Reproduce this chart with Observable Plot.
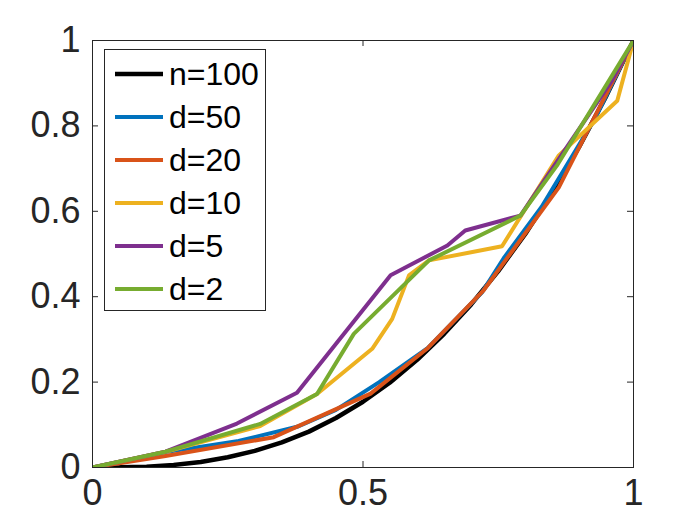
<!DOCTYPE html>
<html>
<head>
<meta charset="utf-8">
<script src="https://cdn.jsdelivr.net/npm/d3@7"></script>
<script src="https://cdn.jsdelivr.net/npm/@observablehq/plot@0.6"></script>
<style>
  body { margin: 0; background: #fff; }
  #wrap { position: relative; width: 700px; height: 525px; font-family: "Liberation Sans", Arial, sans-serif; }
  #legend { position: absolute; left: 104px; top: 49px; width: 162px; height: 262px; border: 1px solid #262626; background: #fff; box-sizing: border-box; }
  .row { position: absolute; left: 0; height: 40px; display: flex; align-items: center; font-size: 32px; color: #000; white-space: nowrap; }
  .swatch { display: inline-block; margin-left: 10px; width: 48px; margin-right: 6px; }
</style>
</head>
<body>
<div id="wrap"></div>
<script>
// ---- data ----
const xTicks = [0, 0.5, 1];
const yTicks = [0, 0.2, 0.4, 0.6, 0.8, 1];

const names  = ["n=100", "d=50", "d=20", "d=10", "d=5", "d=2"];
const colors = ["#000000", "#0072BD", "#D95319", "#EDB120", "#7E2F8E", "#77AC30"];

const xN100 = [0, 0.05, 0.1, 0.15, 0.2, 0.25, 0.3, 0.35, 0.4, 0.45, 0.5, 0.55, 0.6, 0.65, 0.7, 0.75, 0.8, 0.85, 0.9, 0.95, 1];
const yN100 = [0, 0.0003, 0.002, 0.006, 0.013, 0.024, 0.039, 0.059, 0.084, 0.116, 0.154, 0.199, 0.252, 0.313, 0.382, 0.46, 0.547, 0.645, 0.752, 0.871, 1];

const xD50 = [0, 0.135, 0.27, 0.38, 0.45, 0.53, 0.62, 0.72, 0.76, 0.83, 0.93, 1];
const yD50 = [0, 0.036, 0.062, 0.096, 0.135, 0.2, 0.28, 0.41, 0.49, 0.61, 0.82, 1];

const xD20 = [0, 0.135, 0.335, 0.514, 0.62, 0.723, 0.862, 1];
const yD20 = [0, 0.027, 0.071, 0.173, 0.28, 0.415, 0.656, 1];

const xD10 = [0, 0.135, 0.31, 0.415, 0.517, 0.554, 0.585, 0.622, 0.757, 0.862, 0.97, 1];
const yD10 = [0, 0.037, 0.097, 0.172, 0.278, 0.348, 0.45, 0.485, 0.518, 0.731, 0.859, 1];

const xD5 = [0, 0.135, 0.267, 0.378, 0.551, 0.656, 0.689, 0.791, 0.96, 1];
const yD5 = [0, 0.037, 0.103, 0.175, 0.45, 0.52, 0.555, 0.59, 0.906, 1];

const xD2 = [0, 0.135, 0.31, 0.415, 0.483, 0.622, 0.791, 0.86, 1];
const yD2 = [0, 0.037, 0.102, 0.172, 0.313, 0.485, 0.59, 0.71, 1];

// ---- build ----
const seriesX = [xN100, xD50, xD20, xD10, xD5, xD2];
const seriesY = [yN100, yD50, yD20, yD10, yD5, yD2];
const rows = names.map((name, k) => seriesX[k].map((x, i) => ({name, x, y: seriesY[k][i]})));

const ink = "#262626";
const chart = Plot.plot({
  width: 700,
  height: 525,
  marginLeft: 92,
  marginRight: 67,
  marginTop: 40,
  marginBottom: 58,
  style: {fontFamily: "'Liberation Sans', Arial, sans-serif", fontSize: "36px", color: ink, background: "white"},
  x: {domain: [0, 1], label: null},
  y: {domain: [0, 1], label: null},
  marks: [
    ...rows.map((r, k) => Plot.line(r, {x: "x", y: "y", stroke: colors[k], strokeWidth: k === 0 ? 4.5 : 4, clip: true})),
    Plot.frame({stroke: ink, strokeWidth: 1}),
    Plot.tickX(xTicks, {x: d => d, insetTop: 421, stroke: ink}),
    Plot.tickX(xTicks, {x: d => d, insetBottom: 421, stroke: ink}),
    Plot.tickY(yTicks, {y: d => d, insetRight: 535, stroke: ink}),
    Plot.tickY(yTicks, {y: d => d, insetLeft: 535, stroke: ink}),
    Plot.axisX(xTicks, {tickSize: 0, tickPadding: 12, tickFormat: d => String(d), fill: ink}),
    Plot.axisY(yTicks, {tickSize: 0, tickPadding: 12, tickFormat: d => String(d), fill: ink})
  ]
});

const wrap = document.getElementById("wrap");
wrap.appendChild(chart);

// legend inside the axes (MATLAB style)
const legend = document.createElement("div");
legend.id = "legend";
names.forEach((name, k) => {
  const row = document.createElement("div");
  row.className = "row";
  row.style.top = (4 + k * 43) + "px";
  const sw = document.createElementNS("http://www.w3.org/2000/svg", "svg");
  sw.setAttribute("class", "swatch");
  sw.setAttribute("width", 48);
  sw.setAttribute("height", 8);
  const ln = document.createElementNS("http://www.w3.org/2000/svg", "line");
  ln.setAttribute("x1", 0); ln.setAttribute("x2", 48);
  ln.setAttribute("y1", 4); ln.setAttribute("y2", 4);
  ln.setAttribute("stroke", colors[k]);
  ln.setAttribute("stroke-width", k === 0 ? 4.5 : 4);
  sw.appendChild(ln);
  const tx = document.createElement("span");
  tx.textContent = name;
  row.appendChild(sw);
  row.appendChild(tx);
  legend.appendChild(row);
});
wrap.appendChild(legend);
</script>
</body>
</html>
